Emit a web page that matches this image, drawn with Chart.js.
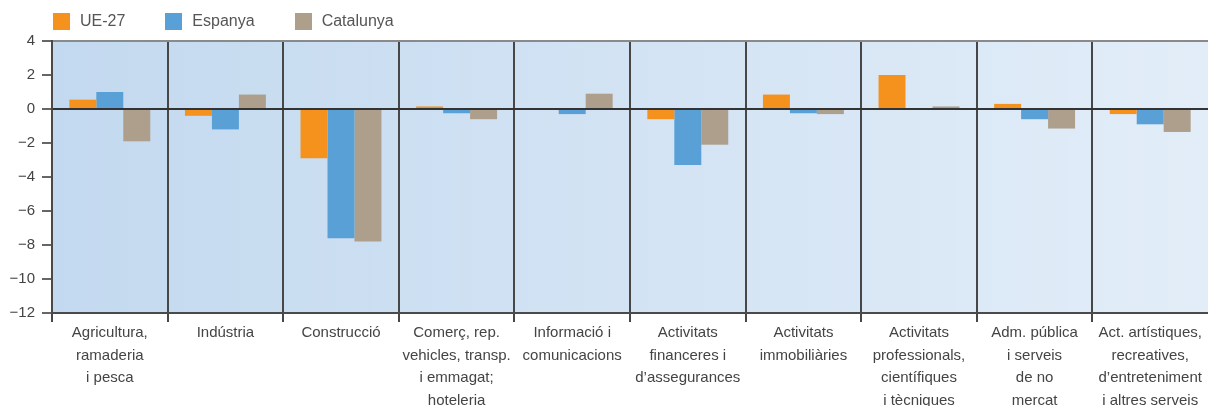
<!DOCTYPE html>
<html>
<head>
<meta charset="utf-8">
<script src="https://cdn.jsdelivr.net/npm/chart.js@4.4.0/dist/chart.umd.min.js"></script>
<style>
  html, body { margin: 0; padding: 0; background: #fff; }
  #wrap { position: relative; width: 1208px; height: 406px; }
  #legend { position: absolute; left: 53px; top: 12px; display: flex; font: 16px "Liberation Sans", Arial, sans-serif; color: #555; }
  #legend .item { display: flex; align-items: center; margin-right: 40px; }
  #legend .box { width: 17px; height: 17px; margin-right: 10px; }
</style>
</head>
<body>
<div id="wrap">
  <canvas id="sectors" width="1208" height="406"></canvas>
  <div id="legend"></div>
</div>
<script>
var categories = [
    ['Agricultura,', 'ramaderia', 'i pesca'],
    ['Indústria'],
    ['Construcció'],
    ['Comerç, rep.', 'vehicles, transp.', 'i emmagat;', 'hoteleria'],
    ['Informació i', 'comunicacions'],
    ['Activitats', 'financeres i', 'd’assegurances'],
    ['Activitats', 'immobiliàries'],
    ['Activitats', 'professionals,', 'científiques', 'i tècniques'],
    ['Adm. pública', 'i serveis', 'de no', 'mercat'],
    ['Act. artístiques,', 'recreatives,', 'd’entreteniment', 'i altres serveis']
];
var ue27 = [0.55, -0.4, -2.9, 0.15, 0, -0.6, 0.85, 2.0, 0.3, -0.3];
var espanya = [1.0, -1.2, -7.6, -0.25, -0.3, -3.3, -0.25, 0, -0.6, -0.9];
var catalunya = [-1.9, 0.85, -7.8, -0.6, 0.9, -2.1, -0.3, 0.15, -1.15, -1.35];
var yTicks = [4, 2, 0, -2, -4, -6, -8, -10, -12];

var font = '"Liberation Sans", Arial, sans-serif';

// blue gradient behind the plot area
var plotBackground = {
    id: 'plotBackground',
    beforeDraw: function(chart) {
        var a = chart.chartArea, c = chart.ctx;
        var g = c.createLinearGradient(a.left, 0, a.right, 0);
        g.addColorStop(0, '#c3d9ef');
        g.addColorStop(1, '#e2edf8');
        c.save();
        c.fillStyle = g;
        c.fillRect(a.left, a.top, a.right - a.left, a.bottom - a.top);
        c.restore();
    }
};

var ctx = document.getElementById('sectors').getContext('2d');
var chart = new Chart(ctx, {
    type: 'bar',
    data: {
        labels: categories,
        datasets: [
            { label: 'UE-27', data: ue27, backgroundColor: '#f5921e' },
            { label: 'Espanya', data: espanya, backgroundColor: '#58a0d6' },
            { label: 'Catalunya', data: catalunya, backgroundColor: '#ad9f8b' }
        ]
    },
    options: {
        responsive: false,
        animation: false,
        events: [],
        categoryPercentage: 0.7,
        barPercentage: 1.0,
        layout: { padding: { top: 41, left: 0, right: 0, bottom: 0 } },
        plugins: {
            legend: { display: false },
            tooltip: { enabled: false }
        },
        scales: {
            x: {
                grid: {
                    offset: true,
                    color: function(c) {
                        // the closing divider on the right edge has no tick context; hide it
                        return c.tick ? '#474747' : 'rgba(0,0,0,0)';
                    },
                    lineWidth: 2,
                    tickLength: 9
                },
                border: { color: '#4a4a4a', width: 2 },
                ticks: {
                    color: '#444',
                    padding: 0,
                    maxRotation: 0,
                    autoSkip: false,
                    font: { family: font, size: 15, lineHeight: 1.5 }
                },
                afterFit: function(scale) { scale.height = 93; }
            },
            y: {
                min: -12,
                max: 4,
                z: 1,
                afterBuildTicks: function(scale) {
                    scale.ticks = yTicks.map(function(v) { return { value: v }; });
                },
                grid: {
                    color: function(c) {
                        if (c.tick && c.tick.value === 0) return '#333';
                        if (c.tick && c.tick.value === 4) return '#8a8a8a';
                        return 'rgba(0,0,0,0)';
                    },
                    lineWidth: 2,
                    tickLength: 10,
                    tickColor: '#666'
                },
                border: { color: '#4a4a4a', width: 2 },
                ticks: {
                    color: '#444',
                    padding: 7,
                    font: { family: font, size: 15 },
                    callback: function(v) { return String(v).replace('-', '\u2212'); }
                },
                afterFit: function(scale) { scale.width = 52; }
            }
        }
    },
    plugins: [plotBackground]
});

// html legend built from the datasets
var legend = document.getElementById('legend');
chart.data.datasets.forEach(function(ds) {
    var item = document.createElement('div');
    item.className = 'item';
    var box = document.createElement('span');
    box.className = 'box';
    box.style.background = ds.backgroundColor;
    var txt = document.createElement('span');
    txt.textContent = ds.label;
    item.appendChild(box);
    item.appendChild(txt);
    legend.appendChild(item);
});
</script>
</body>
</html>
